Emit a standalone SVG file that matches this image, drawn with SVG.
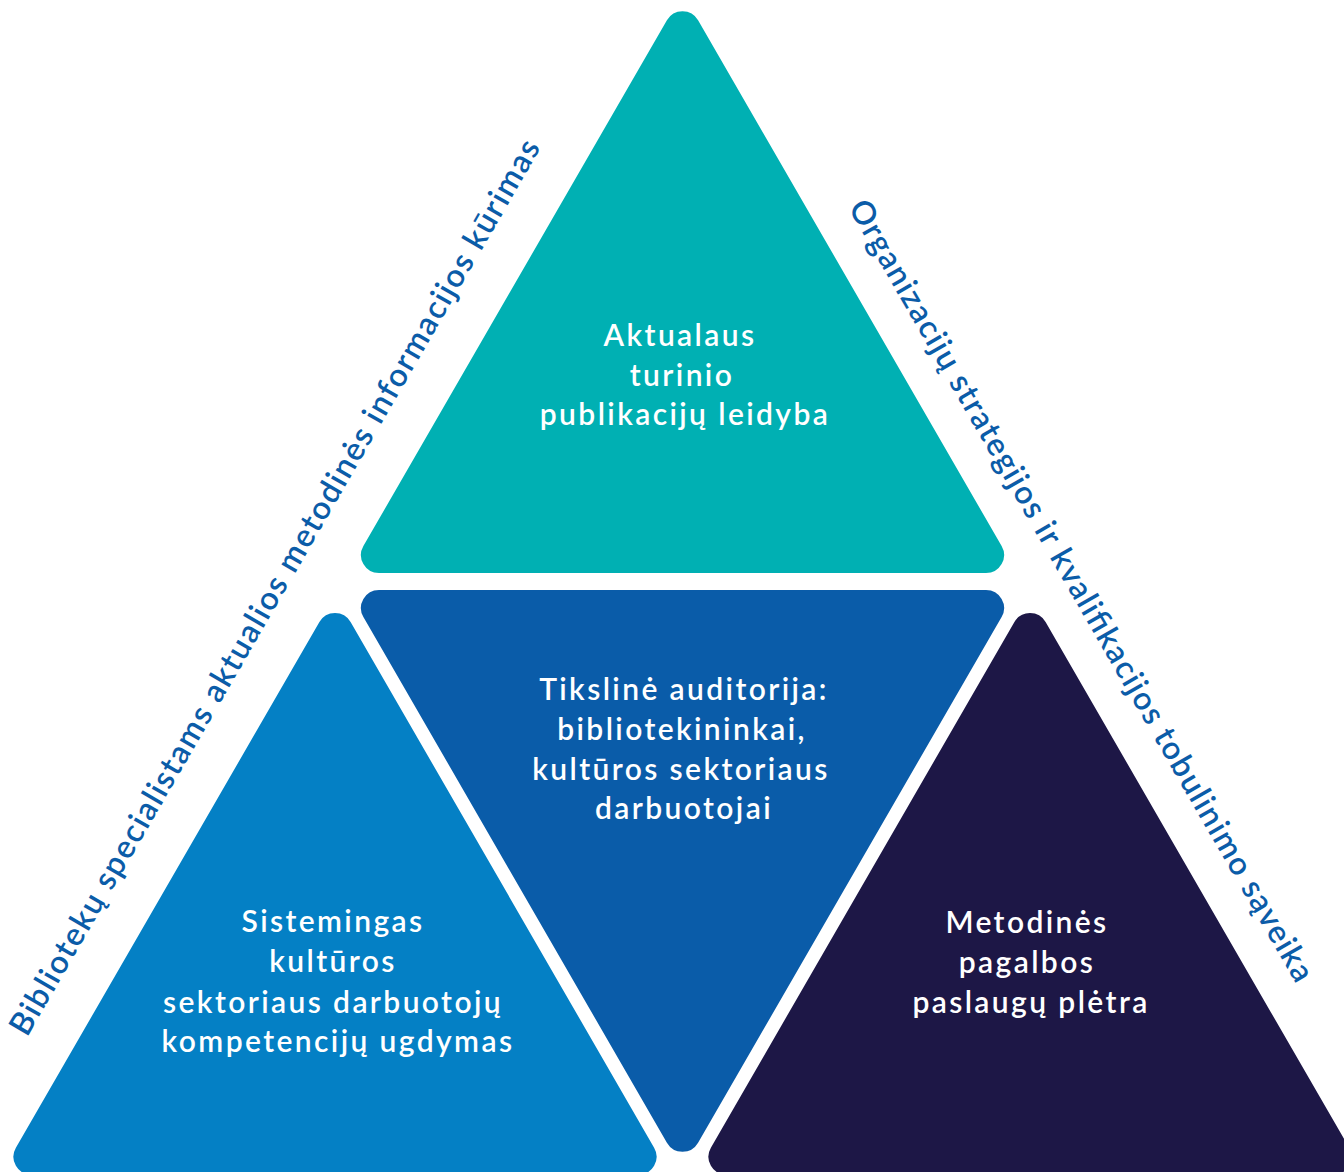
<svg xmlns="http://www.w3.org/2000/svg" width="1344" height="1172" viewBox="0 0 1344 1172">
<style>
.lbl{font-family:Lato,"Liberation Sans",sans-serif;font-weight:600;font-size:30px;letter-spacing:2.4px;fill:#ffffff;text-anchor:middle}
.side{font-family:Lato,"Liberation Sans",sans-serif;font-weight:600;font-size:32px;fill:#0b5ca8;text-anchor:middle}
</style>
<defs>
<path id="up" d="M15.59 27 L319.11 552.7 A18 18 0 0 1 303.52 579.7 L-303.52 579.7 A18 18 0 0 1 -319.11 552.7 L-15.59 27 A18 18 0 0 1 15.59 27 Z"/>
<path id="down" d="M15.59 -27 L319.11 -552.7 A18 18 0 0 0 303.52 -579.7 L-303.52 -579.7 A18 18 0 0 0 -319.11 -552.7 L-15.59 -27 A18 18 0 0 0 15.59 -27 Z"/>
</defs>
<rect width="1344" height="1172" fill="#ffffff"/>
<g id="top">
<use href="#up" transform="translate(682.5,-6.7)" fill="#00b0b3"/>
<text class="lbl"><tspan x="680" y="346">Aktualaus</tspan><tspan x="682" y="386">turinio</tspan><tspan x="685" y="425">publikacijų leidyba</tspan></text>
</g>
<g id="middle">
<use href="#down" transform="translate(682.5,1169.7)" fill="#0a5ca9"/>
<text class="lbl"><tspan x="684" y="700">Tikslinė auditorija:</tspan><tspan x="682" y="740">bibliotekininkai,</tspan><tspan x="681" y="780">kultūros sektoriaus</tspan><tspan x="684" y="819">darbuotojai</tspan></text>
</g>
<g id="bottom-left">
<use href="#up" transform="translate(335,595)" fill="#0480c5"/>
<text class="lbl"><tspan x="333" y="932">Sistemingas</tspan><tspan x="333" y="972">kultūros</tspan><tspan x="333" y="1013">sektoriaus darbuotojų</tspan><tspan x="338" y="1052">kompetencijų ugdymas</tspan></text>
</g>
<g id="bottom-right">
<use href="#up" transform="translate(1030,595)" fill="#1d1746"/>
<text class="lbl"><tspan x="1027" y="933">Metodinės</tspan><tspan x="1027" y="973">pagalbos</tspan><tspan x="1031" y="1013">paslaugų plėtra</tspan></text>
</g>
<g id="side-left">
<text class="side" transform="translate(284,592.5) rotate(-60)" textLength="1028">Bibliotekų specialistams aktualios metodinės informacijos kūrimas</text>
</g>
<g id="side-right">
<text class="side" transform="translate(1072,596) rotate(60)" textLength="897">Organizacijų strategijos ir kvalifikacijos tobulinimo sąveika</text>
</g>
<g id="connectors"></g>
</svg>
